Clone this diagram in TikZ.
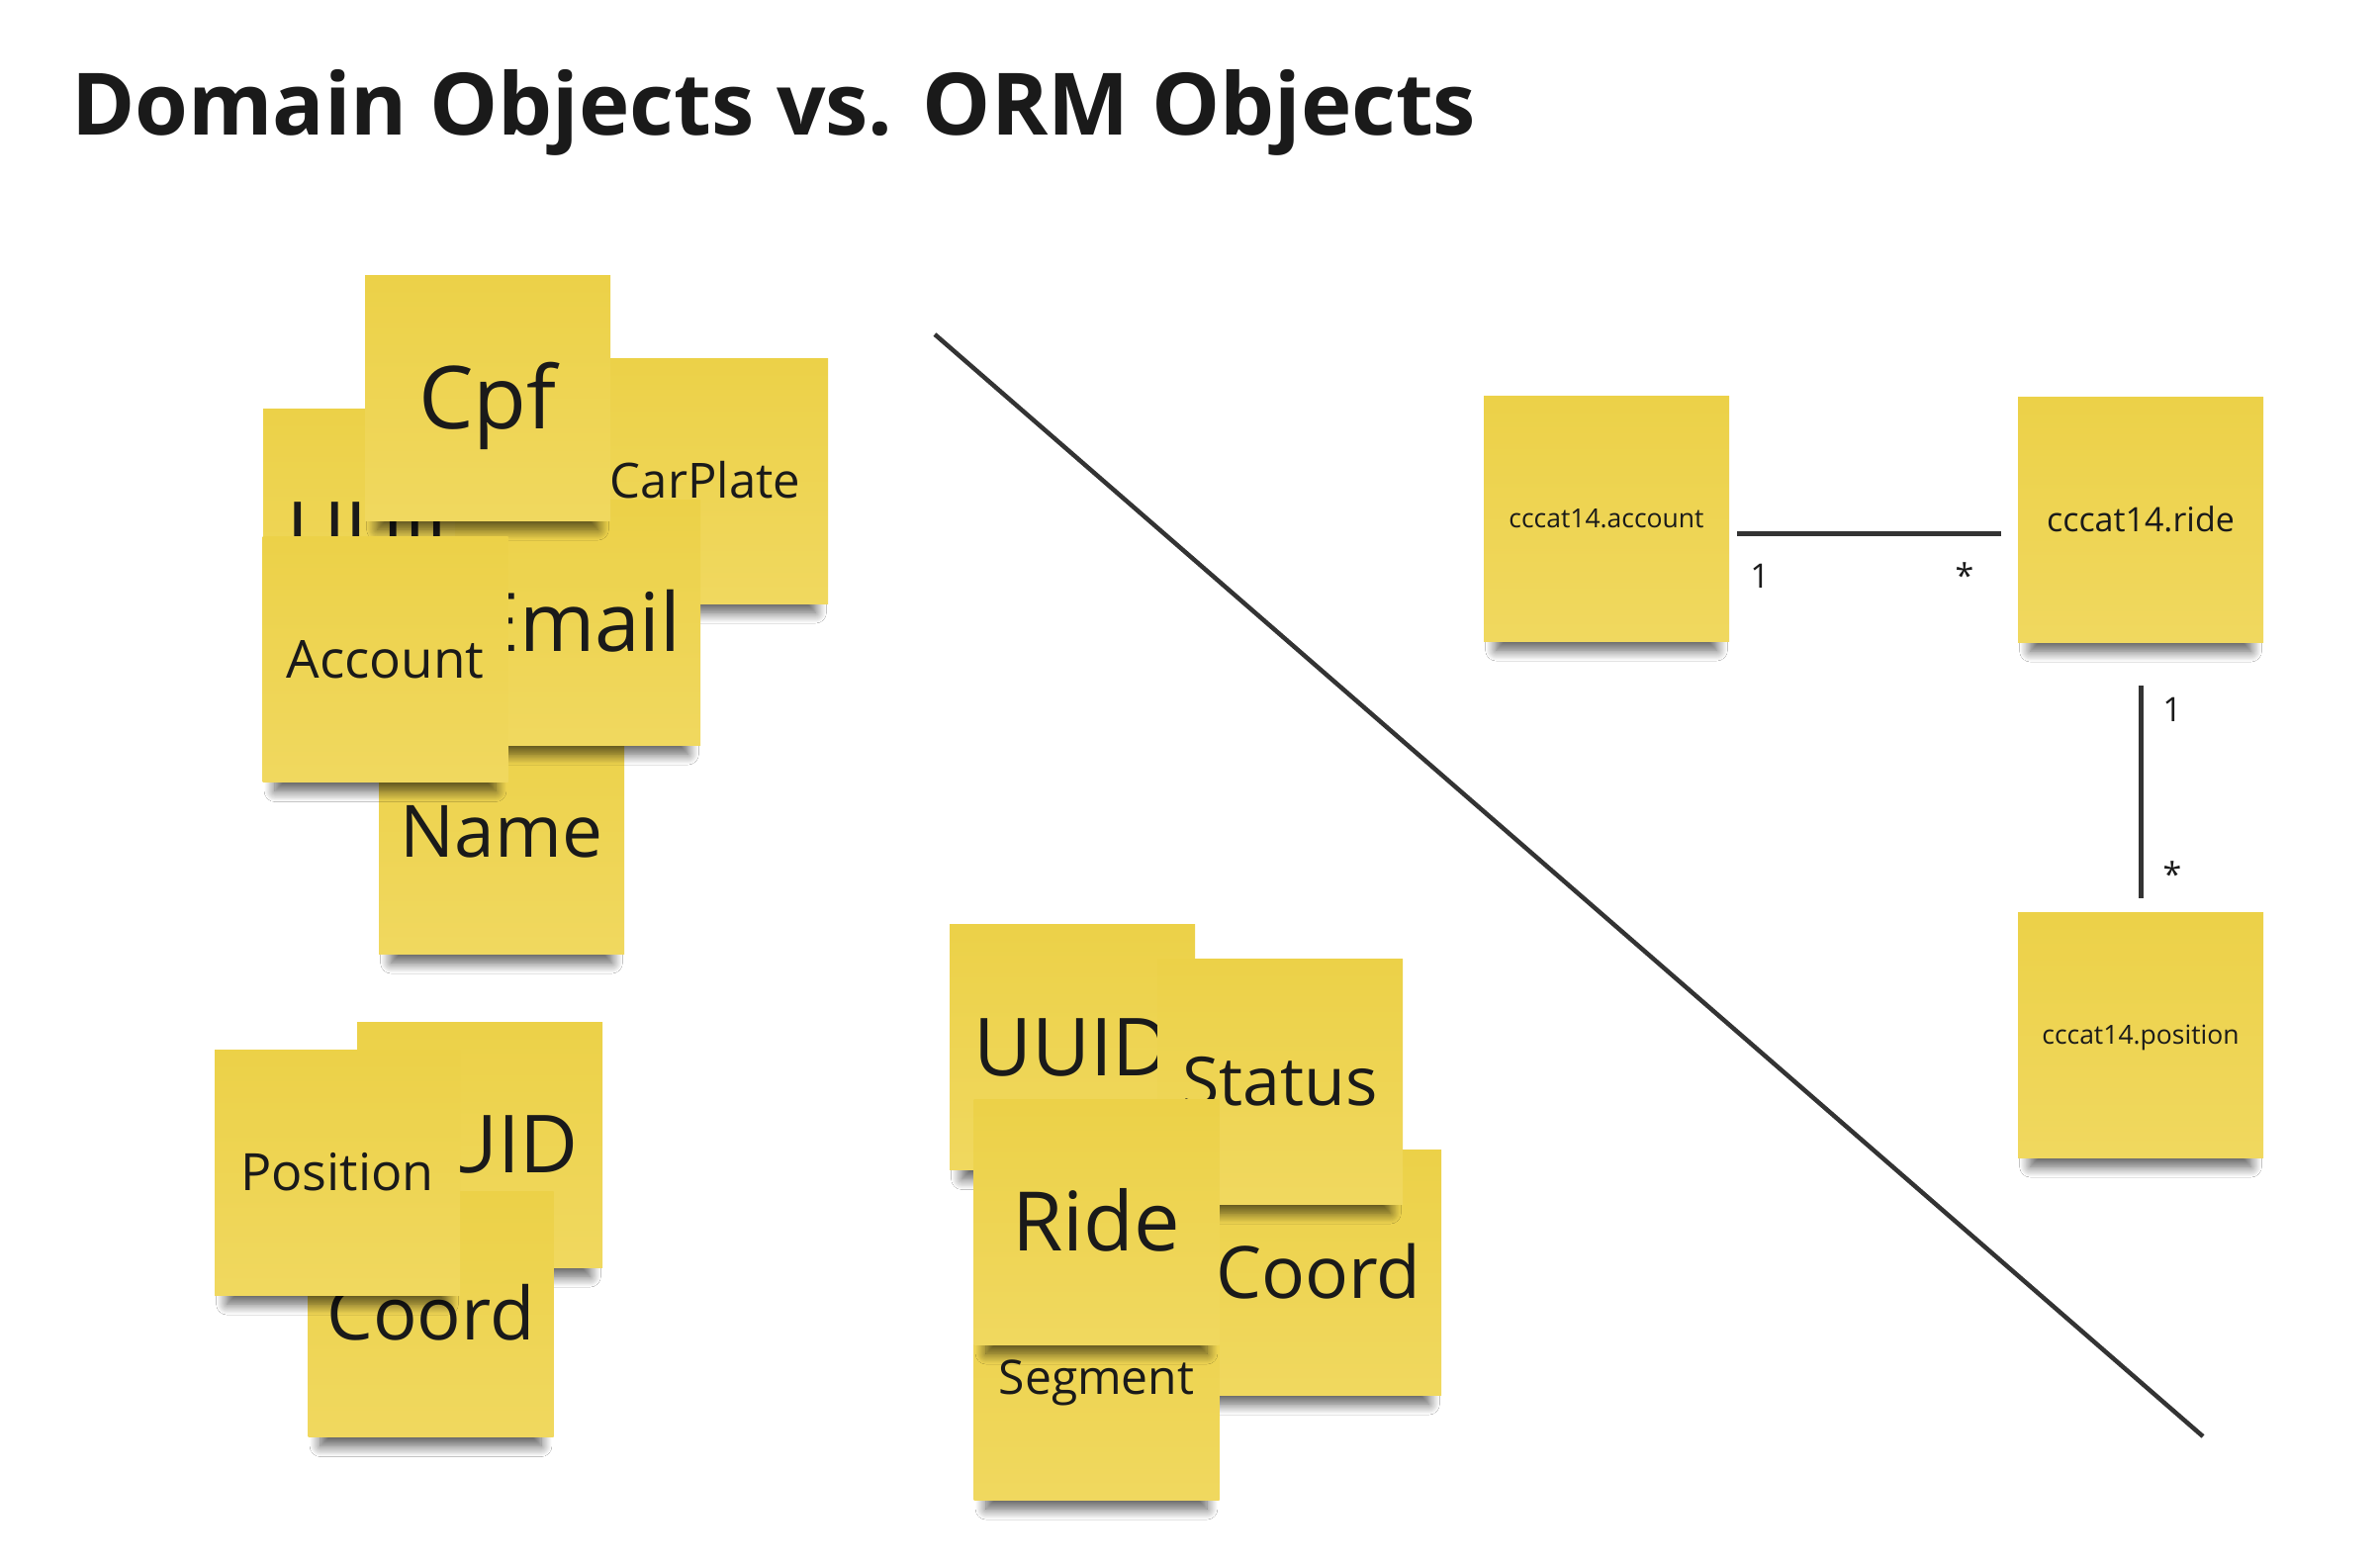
\documentclass[tikz,border=0pt]{standalone}
\usepackage{fontspec}
\setmainfont{Open Sans}
\usetikzlibrary{shadows.blur}
\definecolor{notetop}{RGB}{236,209,72}
\definecolor{notebot}{RGB}{240,216,95}
\definecolor{ink}{RGB}{26,26,26}
\definecolor{linec}{RGB}{51,51,51}
\tikzset{
  note/.style={minimum width=248pt, minimum height=248pt, inner sep=0pt,
    top color=notetop, bottom color=notebot, draw=none,
    blur shadow={shadow xshift=0pt, shadow yshift=-24pt, shadow scale=0.9,
      shadow blur radius=12pt, shadow blur steps=12, shadow opacity=65}},
  notetext/.style={anchor=base, inner sep=0pt, text=ink},
  conn/.style={draw=linec, line width=5pt},
  mult/.style={anchor=base, inner sep=0pt, text=ink, font=\fontsize{34}{40}\selectfont},
  titletext/.style={anchor=base west, inner sep=0pt, text=ink, font=\fontsize{87}{100}\selectfont\bfseries},
}
% name, cx, cy, font size, text
\newcommand\sticky[5]{%
  \node[note] (#1) at (#2,#3) {};
  \node[notetext, font=\fontsize{#4}{#4}\selectfont] (#1-t) at (#2,{#3+0.357*#4}) {#5};
}
\begin{document}
\begin{tikzpicture}[x=1pt, y=-1pt]
\useasboundingbox (0,0) rectangle (2406,1582);
\fill[white] (0,0) rectangle (2406,1582);

\node[titletext] (title) at (72,136) {Domain Objects vs. ORM Objects};

% top-left cluster
\sticky{name}{507}{840}{73}{Name}
\sticky{uuidA}{390}{537}{81}{UUID}
\sticky{carplate}{713}{486}{49}{CarPlate}
\sticky{email}{584}{629}{82}{Email}
\sticky{cpf}{493}{402}{88}{Cpf}
\sticky{account}{389.5}{666.5}{53}{Account}

% bottom-left cluster
\sticky{uuidB}{485}{1157}{81}{UUID}
\sticky{coordL}{435.5}{1328.5}{74}{Coord}
\sticky{position}{341}{1185}{52}{Position}

% bottom-middle cluster
\sticky{uuidM}{1084}{1058.5}{81}{UUID}
\sticky{coordM}{1333}{1286}{73}{Coord}
\sticky{status}{1294}{1093}{68}{Status}
\sticky{segment}{1108.5}{1392}{48}{Segment}
\sticky{ride}{1108.5}{1235}{83}{Ride}

% diagonal divider
\coordinate (d1) at (945,338);
\coordinate (d2) at (2227,1452);
\draw[conn, line width=4.5pt] (d1) -- (d2);

% ORM side
\sticky{accO}{1624}{524}{26.5}{cccat14.account}
\sticky{rideO}{2164}{525}{34}{cccat14.ride}
\sticky{posO}{2164}{1046}{26.5}{cccat14.position}

\draw[conn, shorten <=8pt, shorten >=17pt] (accO.east |- {(0,539)}) -- (rideO.west |- {(0,539)});
\draw[conn, shorten <=44pt, shorten >=14pt] (rideO.south) -- (posO.north);

\node[mult] (m1) at (1779,594) {1};
\node[mult] (m2) at (1986,594) {*};
\node[mult] (m3) at (2196,729) {1};
\node[mult] (m4) at (2196,896) {*};
\end{tikzpicture}
\end{document}
